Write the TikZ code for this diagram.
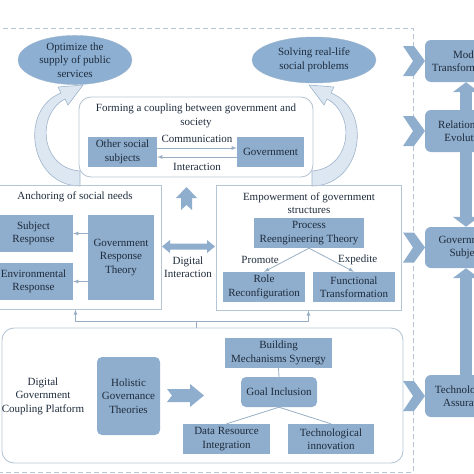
\documentclass[tikz,border=0pt]{standalone}
\usepackage{fontspec}
\setmainfont{Liberation Serif}
\usetikzlibrary{shapes.geometric,arrows.meta}
\definecolor{boxblue}{HTML}{8FADCC}
\definecolor{ovalblue}{HTML}{8CAFD2}
\definecolor{ink}{HTML}{1E2B3C}
\definecolor{panelline}{HTML}{B7C6D5}
\definecolor{linkgray}{HTML}{98AEC4}
\definecolor{curvefill}{HTML}{DDE7F1}
\definecolor{curveline}{HTML}{9DB4CB}
\begin{document}
\begin{tikzpicture}[x=1pt,y=-1pt,
		every node/.style={font=\fontsize{11}{13.5}\selectfont, text=ink, align=center},
		sqbox/.style={fill=boxblue, inner sep=1pt},
		rdbox/.style={sqbox, rounded corners=5pt},
		oval/.style={ellipse, fill=ovalblue, draw=curveline, inner sep=0pt},
		panel/.style={draw=panelline, line width=0.9pt},
		link/.style={draw=linkgray, line width=0.8pt},
		block/.style={fill=boxblue},
		bigstem/.style={draw=boxblue, line width=12pt, -{Triangle[width=26pt,length=10pt]}},
		curved/.style={fill=curvefill, draw=curveline, line width=0.6pt}]
		\useasboundingbox (0,0) rectangle (474,474);
		% outer dashed frame
		\draw[panelline, line width=1pt, dash pattern=on 5pt off 3pt] (-5,28) -- (413,28) -- (413,472) -- (-5,472);
		% goals
		\node[oval, minimum width=114pt, minimum height=46pt] (optim) at (75,60) {Optimize the\\supply of public\\services};
		\node[oval, minimum width=124pt, minimum height=46pt] (solve) at (314,60) {Solving real-life\\social problems};
		% coupling between government and society
		\node[panel, rounded corners=12pt, minimum width=234pt, minimum height=80pt] (couple) at (196,137) {};
		\node (coupletitle) at (196,116) {Forming a coupling between government and\\society};
		\node[sqbox, minimum width=69pt, minimum height=30pt] (other) at (122.5,152) {Other social\\subjects};
		\node[sqbox, minimum width=67pt, minimum height=30pt] (gov) at (270.5,152) {Government};
		\draw[link,-latex] ([yshift=4pt]other.east) -- node[above=2pt] {Communication} ([yshift=4pt]gov.west);
		\draw[link,latex-] ([yshift=-5pt]other.east) -- node[below=2pt] {Interaction} ([yshift=-5pt]gov.west);
		\filldraw[curved] (80,186) .. controls (30,186) and (18,110) .. (61,93) -- (58,87) -- (83,85) -- (68,105) -- (65,99) .. controls (36,114) and (40,168) .. (80,171) -- cycle;
		\filldraw[curved] (312,186) .. controls (362,186) and (374,110) .. (331,93) -- (334,87) -- (309,85) -- (324,105) -- (327,99) .. controls (356,114) and (352,168) .. (312,171) -- cycle;
		\fill[block] (186.5,187) -- (197,198) -- (192,198) -- (192,210) -- (186.5,205) -- (181,210) -- (181,198) -- (176,198) -- cycle;
		% anchoring of social needs
		\node[panel, minimum width=163pt, minimum height=124pt] (anchor) at (79.5,247) {};
		\node (anchortitle) at (75,197) {Anchoring of social needs};
		\node[sqbox, minimum width=79pt, minimum height=37pt] (subj) at (33.5,233.5) {Subject\\Response};
		\node[sqbox, minimum width=79pt, minimum height=37pt] (envr) at (33.5,281.5) {Environmental\\Response};
		\node[sqbox, minimum width=66pt, minimum height=85pt] (grt) at (121,257.5) {Government\\Response\\Theory};
		\draw[link,-latex] (grt.west |- subj) -- (subj.east);
		\draw[link,-latex] (grt.west |- envr) -- (envr.east);
		% digital interaction
		\fill[block] (162,246.5) -- (170,240) -- (170,243.5) -- (207,243.5) -- (207,240) -- (215,246.5) -- (207,253) -- (207,249.5) -- (170,249.5) -- (170,253) -- cycle;
		\node (digital) at (188,267) {Digital\\Interaction};
		% empowerment of government structures
		\node[panel, minimum width=185pt, minimum height=125pt] (empower) at (308.5,247.5) {};
		\node (empowertitle) at (309,203) {Empowerment of government\\structures};
		\node[sqbox, minimum width=110pt, minimum height=30pt] (pret) at (309,233) {Process\\Reengineering Theory};
		\node[sqbox, minimum width=82pt, minimum height=30pt] (role) at (264,287) {Role\\Reconfiguration};
		\node[sqbox, minimum width=82pt, minimum height=30pt] (func) at (354,287) {Functional\\Transformation};
		\draw[link,-latex] (pret.south) -- node[left=4pt] {Promote} (role.north);
		\draw[link,-latex] (pret.south) -- node[right=3pt] {Expedite} (func.north);
		% platform
		\node[panel, rounded corners=12pt, minimum width=401pt, minimum height=135pt] (platform) at (202.5,395.5) {};
		\node (platformlabel) at (43,396) {Digital\\Government\\Coupling Platform};
		\node[rdbox, minimum width=63pt, minimum height=78pt] (holistic) at (128.5,396) {Holistic\\Governance\\Theories};
		\fill[block] (167,389) -- (190,389) -- (190,384) -- (204,395.5) -- (190,407) -- (190,402) -- (167,402) -- (172,395.5) -- cycle;
		\node[sqbox, minimum width=107pt, minimum height=30pt] (build) at (278.5,353) {Building\\Mechanisms Synergy};
		\node[rdbox, minimum width=76pt, minimum height=30pt] (goal) at (279,392) {Goal Inclusion};
		\node[sqbox, minimum width=87pt, minimum height=30pt] (data) at (226.5,439) {Data Resource\\Integration};
		\node[sqbox, minimum width=86pt, minimum height=30pt] (tech) at (331,439) {Technological\\innovation};
		\draw[link] (build.south) -- (goal.north);
		\draw[link] (goal.south) -- (data.north);
		\draw[link] (goal.south) -- (tech.north);
		\draw[link,-latex] ([xshift=-6pt]platform.north) -- ++(0,-6) -| ([xshift=-4pt]anchor.south);
		\draw[link,-latex] ([xshift=-6pt]platform.north) -- ++(0,-6) -| (empower.south);
		% right column
		\foreach \y in {61,131,247.5,396}
			\fill[block] (403,\y-15) -- (414,\y-15) -- (425,\y) -- (414,\y+15) -- (403,\y+15) -- (413,\y) -- cycle;
		\node[rdbox, rounded corners=6pt, minimum width=82pt, minimum height=42pt] (mode) at (466,61) {Mode\\Transformation};
		\node[rdbox, rounded corners=6pt, minimum width=82pt, minimum height=42pt] (relation) at (466,131) {Relationship\\Evolution};
		\node[rdbox, rounded corners=6pt, minimum width=82pt, minimum height=41pt] (govsub) at (466,247.5) {Government\\Subject};
		\node[rdbox, rounded corners=6pt, minimum width=82pt, minimum height=42pt] (techass) at (466,396) {Technological\\Assurance};
		\draw[bigstem] (relation.north) -- (mode.south);
		\draw[bigstem] (relation.south) -- (govsub.north);
		\draw[bigstem] (techass.north) -- (govsub.south);
	\end{tikzpicture}
\end{document}
